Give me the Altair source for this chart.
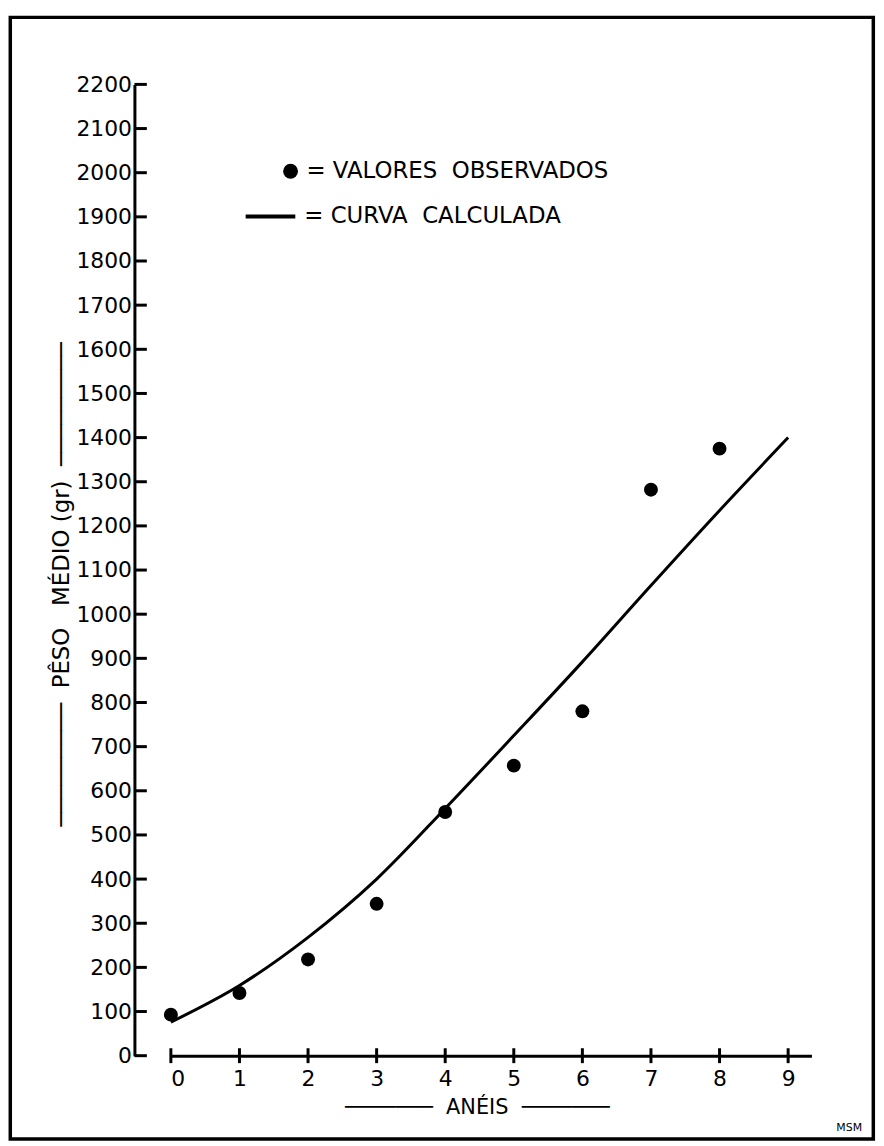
import altair as alt
import pandas as pd

# ---- data ----
anel_obs = [0, 1, 2, 3, 4, 5, 6, 7, 8]
peso_obs = [93, 142, 218, 344, 552, 657, 780, 1282, 1375]
anel_curva = [0, 1, 2, 3, 4, 5, 6, 7, 8, 9]
peso_curva = [76, 159, 268, 400, 560, 725, 892, 1065, 1235, 1400]
x_ticks = list(range(0, 10))
y_ticks = list(range(0, 2300, 100))

obs_label = "= VALORES\u00a0\u00a0OBSERVADOS"
curva_label = "= CURVA\u00a0\u00a0CALCULADA"
x_title = "\u2500" * 7 + "\u00a0\u00a0ANÉIS\u00a0\u00a0" + "\u2500" * 7
y_title = "\u2500" * 9 + "\u00a0\u00a0PÊSO\u00a0\u00a0\u00a0MÉDIO\u00a0(gr)\u00a0\u00a0" + "\u2500" * 9
logo = "MSM"

FONT = "DejaVu Sans"
W, H = 645, 978
YOFF = 36.7

obs_df = pd.DataFrame({"anel": anel_obs, "peso": peso_obs, "serie": obs_label})
curva_df = pd.DataFrame({"anel": anel_curva, "peso": peso_curva, "serie": curva_label})
ytick_df = pd.DataFrame({"peso": y_ticks})
xtick_df = pd.DataFrame({"anel": x_ticks})
one_df = pd.DataFrame({"t": [logo]})

xscale = alt.Scale(domain=[0, 9.34], nice=False, zero=False)
yscale = alt.Scale(domain=[0, 2200], nice=False)

xaxis = alt.Axis(
    values=x_ticks, format="d", ticks=False, tickSize=0, grid=False,
    domainColor="black", domainWidth=3,
    labelFont=FONT, labelFontSize=22, labelColor="black", labelPadding=13,
    title=x_title, titleFont=FONT, titleFontSize=21, titleFontWeight="normal",
    titleColor="black", titleX=308, titleY=52, titleAlign="center",
    titleBaseline="middle",
)
yaxis = alt.Axis(
    values=y_ticks, format="d", ticks=False, tickSize=0, grid=False,
    domainColor="black", domainWidth=3, offset=YOFF,
    labelFont=FONT, labelFontSize=22, labelColor="black", labelPadding=3,
    title=y_title, titleFont=FONT, titleFontSize=23, titleFontWeight="normal",
    titleColor="black", titleAngle=270, titleX=-73, titleY=503,
    titleAlign="center", titleBaseline="middle",
)

X = alt.X("anel:Q", scale=xscale, axis=xaxis)
Y = alt.Y("peso:Q", scale=yscale, axis=yaxis)

curve = alt.Chart(curva_df).mark_line(strokeWidth=3, interpolate="monotone").encode(
    x=X, y=Y,
    color=alt.Color(
        "serie:N",
        scale=alt.Scale(domain=[curva_label], range=["black"]),
        legend=alt.Legend(
            title=None, orient="none", legendX=73.3, legendY=106,
            symbolType="stroke", symbolSize=2500, symbolStrokeWidth=4,
            symbolStrokeColor="black", labelOffset=7, padding=0,
            labelFont=FONT, labelFontSize=23, labelColor="black", labelLimit=700,
        ),
    ),
)

points = alt.Chart(obs_df).mark_point(filled=True, size=196, color="black", opacity=1).encode(
    x=X, y=Y,
    shape=alt.Shape(
        "serie:N",
        scale=alt.Scale(domain=[obs_label], range=["circle"]),
        legend=alt.Legend(
            title=None, orient="none", legendX=109, legendY=76,
            symbolSize=225, symbolFillColor="black", symbolStrokeColor="black",
            symbolStrokeWidth=0, labelOffset=4.5, padding=0,
            labelFont=FONT, labelFontSize=23, labelColor="black", labelLimit=700,
        ),
    ),
)

yticks = alt.Chart(ytick_df).mark_rule(color="black", strokeWidth=3).encode(
    y=Y, x=alt.value(-YOFF), x2=alt.value(-YOFF + 12.5)
)
xticks = alt.Chart(xtick_df).mark_rule(color="black", strokeWidth=3).encode(
    x=X, y=alt.value(H - 7.5), y2=alt.value(H + 7.5)
)

frame = alt.Chart(one_df).mark_rect(
    fill=None, stroke="black", strokeWidth=3.5
).encode(
    x=alt.value(-161.7), x2=alt.value(707.3), y=alt.value(-67.5), y2=alt.value(1062)
)

msm = alt.Chart(one_df).mark_text(
    font=FONT, fontSize=11, color="black", align="center", baseline="middle"
).encode(text="t:N", x=alt.value(683), y=alt.value(1051))

chart = alt.layer(frame, curve, points, yticks, xticks, msm).properties(
    width=W, height=H,
    padding={"left": 0, "top": 3, "right": 0, "bottom": 0},
    background="white",
).configure_view(strokeWidth=0)

chart.save("out.html", embed_options={"renderer": "svg", "actions": False})
